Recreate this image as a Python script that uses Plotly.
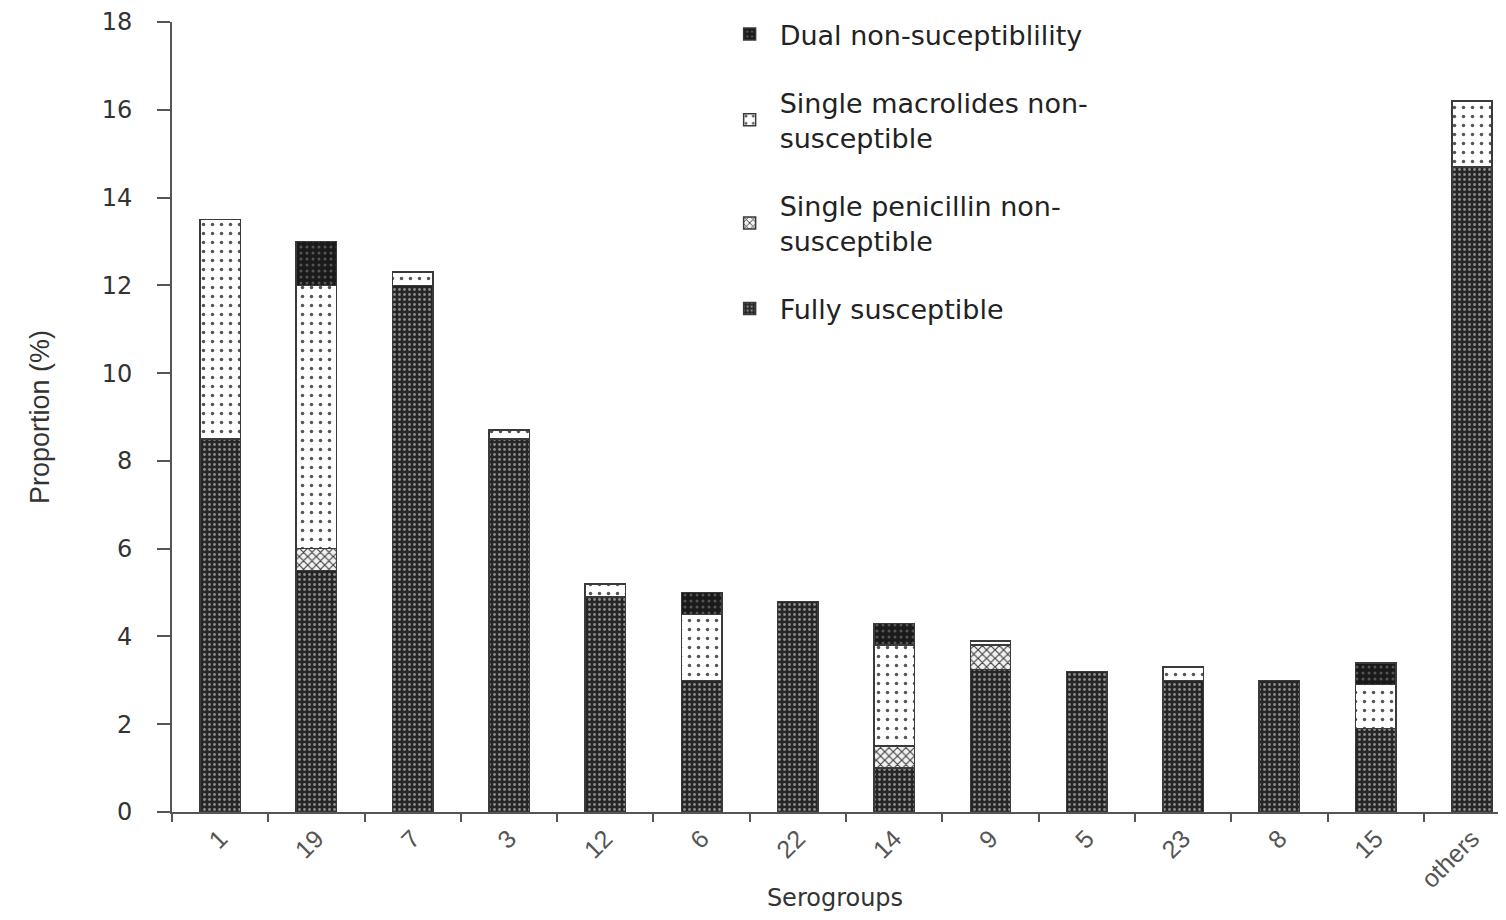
import plotly.graph_objects as go

categories = ["1", "19", "7", "3", "12", "6", "22", "14", "9", "5", "23", "8", "15", "others"]
fully_susceptible = [8.5, 5.5, 12.0, 8.5, 4.9, 3.0, 4.8, 1.0, 3.25, 3.2, 3.0, 3.0, 1.9, 14.7]
single_penicillin = [0, 0.5, 0, 0, 0, 0, 0, 0.5, 0.55, 0, 0, 0, 0, 0]
single_macrolides = [5.0, 6.0, 0.3, 0.2, 0.3, 1.5, 0, 2.3, 0.1, 0, 0.3, 0, 1.0, 1.5]
dual_non = [0, 1.0, 0, 0, 0, 0.5, 0, 0.5, 0, 0, 0, 0, 0.5, 0]

series = [
    ("Fully susceptible", fully_susceptible, 4,
     dict(shape=".", bgcolor="#262626", fgcolor="#8c8c8c", size=5, solidity=0.25, fillmode="replace")),
    ("Single penicillin non-<br>susceptible", single_penicillin, 3,
     dict(shape="x", bgcolor="#f2f2f2", fgcolor="#404040", size=6, solidity=0.35, fillmode="replace")),
    ("Single macrolides non-<br>susceptible", single_macrolides, 2,
     dict(shape=".", bgcolor="#ffffff", fgcolor="#555555", size=9, solidity=0.12, fillmode="replace")),
    ("Dual non-suceptiblility", dual_non, 1,
     dict(shape=".", bgcolor="#1a1a1a", fgcolor="#555555", size=6, solidity=0.2, fillmode="replace")),
]

fig = go.Figure()
for i, (name, vals, rank, pat) in enumerate(series):
    fig.add_trace(go.Bar(
        x=categories, y=vals, name=name, legendgroup=f"g{rank}", legendrank=rank,
        marker=dict(color=pat["bgcolor"], pattern=pat,
                    line=dict(color="#3a3a3a", width=1.5)),
        width=0.42,
    ))

fig_w, fig_h = 1490, 904
bottom_m = 100
plot_h = fig_h - bottom_m
fig.update_layout(
    width=fig_w, height=fig_h,
    barmode="stack",
    plot_bgcolor="white", paper_bgcolor="white",
    margin=dict(l=164, r=0, t=0, b=bottom_m),
    font=dict(family="DejaVu Sans", color="#333333"),
    legend=dict(
        x=0.413, y=(plot_h - 2) / plot_h, xanchor="left", yanchor="top",
        traceorder="grouped", tracegroupgap=30,
        font=dict(family="DejaVu Sans", size=27, color="#222222"),
        bgcolor="rgba(0,0,0,0)", itemwidth=50,
    ),
    showlegend=True,
)
fig.update_xaxes(
    type="category", tickson="boundaries", ticks="outside", ticklen=8,
    tickwidth=2, tickcolor="#555555", automargin=False,
    range=[-0.5, 13.27],
    showline=True, linecolor="#555555", linewidth=2, showgrid=False,
    tickangle=-45,
    tickfont=dict(family="Liberation Sans Narrow, Liberation Sans", size=25, color="#555555"),
    title=dict(text="Serogroups", font=dict(family="DejaVu Sans", size=24, color="#333333"), standoff=14),
)
fig.update_yaxes(
    domain=[0, (plot_h - 14) / plot_h], automargin=False,
    range=[0, 18], dtick=2, ticks="outside", ticklen=13, tickwidth=2,
    tickcolor="#555555", showline=True, linecolor="#555555", linewidth=2,
    showgrid=False, zeroline=False, ticklabelstandoff=20,
    tickfont=dict(family="DejaVu Sans", size=24, color="#333333"),
    title=dict(text="Proportion (%)", font=dict(family="Liberation Sans Narrow, Liberation Sans", size=27, color="#333333"), standoff=44),
)

fig.write_html("out.html")
